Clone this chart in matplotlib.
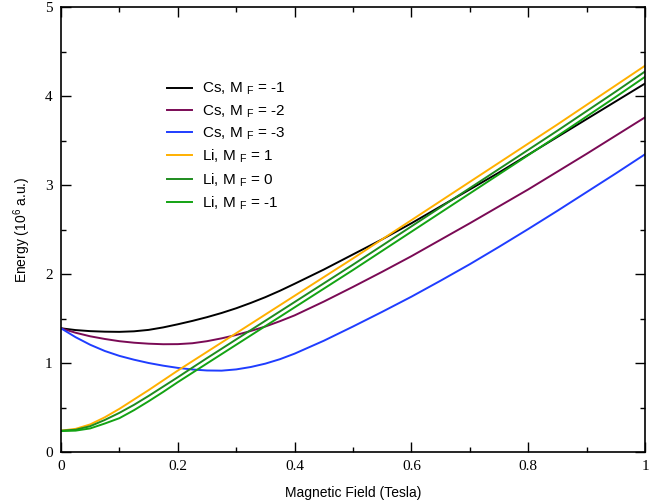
import matplotlib
matplotlib.use("Agg")
import matplotlib.pyplot as plt
from matplotlib.ticker import MultipleLocator

plt.rcParams['font.family'] = ['Liberation Sans', 'DejaVu Sans']
plt.rcParams['mathtext.fontset'] = 'custom'
plt.rcParams['mathtext.rm'] = 'Liberation Sans'
plt.rcParams['mathtext.it'] = 'Liberation Sans:italic'
plt.rcParams['mathtext.default'] = 'regular'

# ---- data ----
field = [0.0, 0.025, 0.05, 0.075, 0.1, 0.125, 0.15, 0.175, 0.2, 0.225, 0.25, 0.275,
         0.3, 0.325, 0.35, 0.375, 0.4, 0.45, 0.5, 0.55, 0.6, 0.65, 0.7, 0.75,
         0.8, 0.85, 0.9, 0.95, 1.0]

cs_m1 = [1.39, 1.37, 1.358, 1.352, 1.35, 1.356, 1.372, 1.40, 1.435, 1.473, 1.515, 1.562,
         1.615, 1.675, 1.74, 1.812, 1.89, 2.05, 2.22, 2.39, 2.57, 2.76, 2.95, 3.14,
         3.34, 3.54, 3.74, 3.94, 4.14]
cs_m2 = [1.39, 1.34, 1.30, 1.27, 1.245, 1.228, 1.217, 1.211, 1.212, 1.222, 1.245, 1.277,
         1.315, 1.36, 1.41, 1.47, 1.535, 1.69, 1.855, 2.025, 2.20, 2.385, 2.57, 2.76,
         2.95, 3.15, 3.35, 3.555, 3.76]
cs_m3 = [1.39, 1.29, 1.205, 1.135, 1.08, 1.037, 1.0, 0.97, 0.945, 0.927, 0.916, 0.914,
         0.928, 0.955, 0.993, 1.043, 1.105, 1.25, 1.41, 1.575, 1.745, 1.925, 2.11, 2.305,
         2.505, 2.71, 2.92, 3.13, 3.345]
li_p1 = [0.24, 0.26, 0.31, 0.39, 0.485, 0.59, 0.695, 0.805, 0.915, 1.02, 1.125, 1.23,
         1.335, 1.44, 1.545, 1.65, 1.755, 1.965, 2.175, 2.39, 2.605, 2.82, 3.035, 3.25,
         3.465, 3.68, 3.90, 4.12, 4.34]
li_0 = [0.24, 0.25, 0.29, 0.36, 0.44, 0.53, 0.63, 0.735, 0.84, 0.948, 1.055, 1.16,
        1.265, 1.37, 1.475, 1.58, 1.685, 1.895, 2.105, 2.32, 2.535, 2.75, 2.965, 3.18,
        3.395, 3.61, 3.83, 4.05, 4.275]
li_m1 = [0.235, 0.24, 0.265, 0.32, 0.38, 0.47, 0.57, 0.675, 0.785, 0.89, 0.995, 1.10,
         1.205, 1.31, 1.415, 1.52, 1.625, 1.835, 2.045, 2.26, 2.475, 2.69, 2.905, 3.12,
         3.335, 3.55, 3.77, 3.99, 4.215]

series_labels = ["Cs, M $_{F}$ = -1", "Cs, M $_{F}$ = -2", "Cs, M $_{F}$ = -3",
                 "Li, M $_{F}$ = 1", "Li, M $_{F}$ = 0", "Li, M $_{F}$ = -1"]
series = [cs_m1, cs_m2, cs_m3, li_p1, li_0, li_m1]
colors = ["#000000", "#7a0a55", "#1f3dff", "#ffb000", "#1e8c1e", "#13a313"]

xticks = [0, 0.2, 0.4, 0.6, 0.8, 1.0]
xtick_labels = ["0", "0.2", "0.4", "0.6", "0.8", "1"]
yticks = [0, 1, 2, 3, 4, 5]
ytick_labels = ["0", "1", "2", "3", "4", "5"]

# ---- figure ----
fig = plt.figure(figsize=(6.63, 5.04), dpi=100)
ax = fig.add_axes([61/663, 1 - 452/504, (645 - 61)/663, (452 - 7)/504])

for y, c, lab in zip(series, colors, series_labels):
    ax.plot(field, y, color=c, lw=1.4, label=lab)

ax.set_xlim(0, 1)
ax.set_ylim(0, 5)
ax.set_xticks(xticks)
ax.set_xticklabels(xtick_labels, family='Liberation Serif', fontsize=11)
ax.set_yticks(yticks)
ax.set_yticklabels(ytick_labels, family='Liberation Serif', fontsize=11)
ax.xaxis.set_minor_locator(MultipleLocator(0.1))
ax.yaxis.set_minor_locator(MultipleLocator(0.5))
ax.tick_params(which='both', direction='in', top=True, right=True, width=1.0)
ax.tick_params(which='major', length=7, pad=6)
ax.tick_params(which='minor', length=3.5)
for s in ax.spines.values():
    s.set_linewidth(1.2)

ax.set_xlabel("Magnetic Field (Tesla)", fontsize=10, labelpad=9)
ax.set_ylabel("Energy (10$^{6}$ a.u.)", fontsize=10, labelpad=9)

leg = ax.legend(loc='upper left', bbox_to_anchor=(167/663, 1 - 81/504),
                bbox_transform=fig.transFigure, frameon=False, fontsize=11,
                handlelength=1.65, handletextpad=0.65, labelspacing=0.385,
                borderaxespad=0, borderpad=0)

fig.savefig("out.png", dpi=100)
